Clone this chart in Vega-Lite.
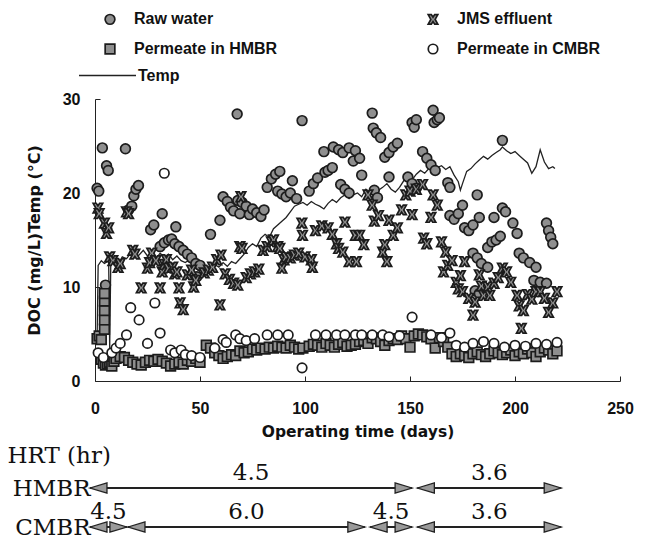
{
  "$schema": "https://vega.github.io/schema/vega-lite/v6.json",
  "autosize": {"type": "none"},
  "padding": {"left": 95, "top": 99, "right": 25, "bottom": 159},
  "width": 525,
  "height": 282,
  "background": "white",
  "config": {"view": {"stroke": null}, "axis": {"grid": false}, "legend": {"padding": 0}},
  "resolve": {"scale": {"y": "independent"}, "axis": {"y": "independent"}},
  "datasets": {
    "temp": [
      {"d":1,"v":4.5,"var":"Temp"},{"d":1.5,"v":12.3,"var":"Temp"},{"d":3,"v":12.8,"var":"Temp"},{"d":4.5,"v":12.5,"var":"Temp"},{"d":6.5,"v":12.8,"var":"Temp"},{"d":7,"v":3.5,"var":"Temp"},{"d":7.5,"v":12.3,"var":"Temp"},{"d":9,"v":12.8,"var":"Temp"},{"d":11,"v":12.4,"var":"Temp"},{"d":13,"v":13.2,"var":"Temp"},{"d":15,"v":13.0,"var":"Temp"},{"d":17,"v":13.6,"var":"Temp"},{"d":19,"v":13.1,"var":"Temp"},{"d":21,"v":13.4,"var":"Temp"},{"d":23,"v":13.9,"var":"Temp"},{"d":25,"v":13.3,"var":"Temp"},{"d":27,"v":13.7,"var":"Temp"},{"d":29,"v":13.0,"var":"Temp"},{"d":31,"v":13.6,"var":"Temp"},{"d":33,"v":13.2,"var":"Temp"},{"d":35,"v":13.5,"var":"Temp"},{"d":37,"v":12.9,"var":"Temp"},{"d":39,"v":13.3,"var":"Temp"},{"d":41,"v":12.8,"var":"Temp"},{"d":43,"v":12.6,"var":"Temp"},{"d":45,"v":12.9,"var":"Temp"},{"d":47,"v":12.2,"var":"Temp"},{"d":49,"v":11.8,"var":"Temp"},{"d":51,"v":11.4,"var":"Temp"},{"d":53,"v":11.6,"var":"Temp"},{"d":55,"v":12.0,"var":"Temp"},{"d":57,"v":12.4,"var":"Temp"},{"d":59,"v":12.1,"var":"Temp"},{"d":61,"v":12.6,"var":"Temp"},{"d":63,"v":12.2,"var":"Temp"},{"d":65,"v":12.7,"var":"Temp"},{"d":67,"v":12.5,"var":"Temp"},{"d":69,"v":13.0,"var":"Temp"},{"d":71,"v":13.5,"var":"Temp"},{"d":73,"v":14.2,"var":"Temp"},{"d":75,"v":14.6,"var":"Temp"},{"d":77,"v":14.3,"var":"Temp"},{"d":79,"v":15.2,"var":"Temp"},{"d":81,"v":15.6,"var":"Temp"},{"d":83,"v":15.3,"var":"Temp"},{"d":85,"v":16.2,"var":"Temp"},{"d":87,"v":16.6,"var":"Temp"},{"d":89,"v":17.0,"var":"Temp"},{"d":91,"v":17.4,"var":"Temp"},{"d":93,"v":18.0,"var":"Temp"},{"d":95,"v":18.6,"var":"Temp"},{"d":97,"v":18.8,"var":"Temp"},{"d":99,"v":19.0,"var":"Temp"},{"d":101,"v":18.7,"var":"Temp"},{"d":103,"v":19.1,"var":"Temp"},{"d":105,"v":18.8,"var":"Temp"},{"d":107,"v":18.6,"var":"Temp"},{"d":109,"v":18.3,"var":"Temp"},{"d":111,"v":18.9,"var":"Temp"},{"d":113,"v":19.3,"var":"Temp"},{"d":115,"v":19.0,"var":"Temp"},{"d":117,"v":19.5,"var":"Temp"},{"d":119,"v":19.8,"var":"Temp"},{"d":121,"v":19.4,"var":"Temp"},{"d":123,"v":19.8,"var":"Temp"},{"d":125,"v":20.0,"var":"Temp"},{"d":127,"v":19.6,"var":"Temp"},{"d":129,"v":20.4,"var":"Temp"},{"d":131,"v":20.1,"var":"Temp"},{"d":133,"v":19.6,"var":"Temp"},{"d":135,"v":20.3,"var":"Temp"},{"d":137,"v":20.6,"var":"Temp"},{"d":139,"v":21.0,"var":"Temp"},{"d":141,"v":20.4,"var":"Temp"},{"d":143,"v":20.1,"var":"Temp"},{"d":145,"v":20.6,"var":"Temp"},{"d":147,"v":21.3,"var":"Temp"},{"d":149,"v":21.7,"var":"Temp"},{"d":151,"v":21.4,"var":"Temp"},{"d":153,"v":22.0,"var":"Temp"},{"d":155,"v":22.4,"var":"Temp"},{"d":157,"v":22.1,"var":"Temp"},{"d":159,"v":22.6,"var":"Temp"},{"d":161,"v":23.0,"var":"Temp"},{"d":163,"v":22.7,"var":"Temp"},{"d":165,"v":22.9,"var":"Temp"},{"d":167,"v":22.5,"var":"Temp"},{"d":169,"v":22.8,"var":"Temp"},{"d":171,"v":21.9,"var":"Temp"},{"d":173,"v":21.2,"var":"Temp"},{"d":174,"v":20.3,"var":"Temp"},{"d":175,"v":21.0,"var":"Temp"},{"d":177,"v":22.3,"var":"Temp"},{"d":179,"v":22.6,"var":"Temp"},{"d":181,"v":23.1,"var":"Temp"},{"d":183,"v":23.5,"var":"Temp"},{"d":185,"v":23.9,"var":"Temp"},{"d":187,"v":23.6,"var":"Temp"},{"d":189,"v":24.0,"var":"Temp"},{"d":191,"v":24.3,"var":"Temp"},{"d":193,"v":24.6,"var":"Temp"},{"d":194,"v":24.9,"var":"Temp"},{"d":196,"v":24.5,"var":"Temp"},{"d":198,"v":24.2,"var":"Temp"},{"d":200,"v":24.4,"var":"Temp"},{"d":202,"v":24.0,"var":"Temp"},{"d":204,"v":23.6,"var":"Temp"},{"d":206,"v":23.2,"var":"Temp"},{"d":208,"v":22.1,"var":"Temp"},{"d":210,"v":22.8,"var":"Temp"},{"d":212,"v":24.6,"var":"Temp"},{"d":214,"v":23.3,"var":"Temp"},{"d":216,"v":22.6,"var":"Temp"},{"d":218,"v":22.8,"var":"Temp"},{"d":219,"v":22.6,"var":"Temp"}
    ],
    "pts": [
      {"d":1,"v":20.5,"s":"Raw water"},{"d":1.8,"v":20.2,"s":"Raw water"},{"d":3.5,"v":24.8,"s":"Raw water"},{"d":5.5,"v":22.9,"s":"Raw water"},{"d":6.3,"v":22.4,"s":"Raw water"},{"d":5,"v":10.2,"s":"Raw water"},{"d":14.5,"v":24.7,"s":"Raw water"},{"d":16,"v":18.2,"s":"Raw water"},{"d":17.5,"v":18.6,"s":"Raw water"},{"d":18.5,"v":19.7,"s":"Raw water"},{"d":19.5,"v":20.4,"s":"Raw water"},{"d":20.7,"v":20.8,"s":"Raw water"},{"d":26.5,"v":16.1,"s":"Raw water"},{"d":28,"v":16.6,"s":"Raw water"},{"d":32,"v":17.8,"s":"Raw water"},{"d":31,"v":14.3,"s":"Raw water"},{"d":33,"v":14.7,"s":"Raw water"},{"d":35,"v":15,"s":"Raw water"},{"d":36.5,"v":15.1,"s":"Raw water"},{"d":38.5,"v":16.4,"s":"Raw water"},{"d":38,"v":14.6,"s":"Raw water"},{"d":40,"v":14.3,"s":"Raw water"},{"d":42,"v":13.9,"s":"Raw water"},{"d":44,"v":13.5,"s":"Raw water"},{"d":46,"v":13.1,"s":"Raw water"},{"d":48,"v":12.5,"s":"Raw water"},{"d":48.5,"v":11.1,"s":"Raw water"},{"d":50,"v":12.3,"s":"Raw water"},{"d":55,"v":15.6,"s":"Raw water"},{"d":59.5,"v":17.1,"s":"Raw water"},{"d":61,"v":19.6,"s":"Raw water"},{"d":63,"v":19.1,"s":"Raw water"},{"d":64.5,"v":18.5,"s":"Raw water"},{"d":66,"v":18.1,"s":"Raw water"},{"d":67.7,"v":28.4,"s":"Raw water"},{"d":68,"v":19.2,"s":"Raw water"},{"d":69,"v":17.8,"s":"Raw water"},{"d":70,"v":19,"s":"Raw water"},{"d":72,"v":18.6,"s":"Raw water"},{"d":73.5,"v":17.7,"s":"Raw water"},{"d":75,"v":18.3,"s":"Raw water"},{"d":77,"v":17.9,"s":"Raw water"},{"d":79,"v":17.5,"s":"Raw water"},{"d":80.5,"v":18.2,"s":"Raw water"},{"d":82,"v":20.6,"s":"Raw water"},{"d":84,"v":21.5,"s":"Raw water"},{"d":86,"v":22,"s":"Raw water"},{"d":88,"v":22.3,"s":"Raw water"},{"d":87,"v":20.2,"s":"Raw water"},{"d":89,"v":19.9,"s":"Raw water"},{"d":91,"v":19.6,"s":"Raw water"},{"d":93,"v":20,"s":"Raw water"},{"d":94,"v":21.3,"s":"Raw water"},{"d":96,"v":19.4,"s":"Raw water"},{"d":98.6,"v":27.7,"s":"Raw water"},{"d":102,"v":20.2,"s":"Raw water"},{"d":104,"v":21,"s":"Raw water"},{"d":106,"v":21.6,"s":"Raw water"},{"d":109,"v":24.4,"s":"Raw water"},{"d":109.5,"v":22.2,"s":"Raw water"},{"d":111,"v":22.4,"s":"Raw water"},{"d":113,"v":22.7,"s":"Raw water"},{"d":113.5,"v":24.9,"s":"Raw water"},{"d":116,"v":24.6,"s":"Raw water"},{"d":118,"v":24.3,"s":"Raw water"},{"d":121,"v":24.8,"s":"Raw water"},{"d":124,"v":24.5,"s":"Raw water"},{"d":123,"v":23.4,"s":"Raw water"},{"d":126,"v":23.7,"s":"Raw water"},{"d":127,"v":21.9,"s":"Raw water"},{"d":117,"v":20.9,"s":"Raw water"},{"d":119,"v":20.4,"s":"Raw water"},{"d":121,"v":20,"s":"Raw water"},{"d":132,"v":28.5,"s":"Raw water"},{"d":132.5,"v":26.9,"s":"Raw water"},{"d":134,"v":26.4,"s":"Raw water"},{"d":136,"v":25.9,"s":"Raw water"},{"d":133,"v":20.3,"s":"Raw water"},{"d":134.5,"v":19.5,"s":"Raw water"},{"d":138,"v":23.8,"s":"Raw water"},{"d":140,"v":24.3,"s":"Raw water"},{"d":142,"v":24.9,"s":"Raw water"},{"d":144,"v":25.3,"s":"Raw water"},{"d":140,"v":21.7,"s":"Raw water"},{"d":149,"v":21.7,"s":"Raw water"},{"d":151,"v":21,"s":"Raw water"},{"d":153,"v":20.5,"s":"Raw water"},{"d":151,"v":27.5,"s":"Raw water"},{"d":152,"v":27,"s":"Raw water"},{"d":153,"v":27.8,"s":"Raw water"},{"d":161,"v":28.8,"s":"Raw water"},{"d":161.5,"v":27.5,"s":"Raw water"},{"d":163,"v":27.8,"s":"Raw water"},{"d":164,"v":28,"s":"Raw water"},{"d":156,"v":24.4,"s":"Raw water"},{"d":158,"v":23.7,"s":"Raw water"},{"d":160,"v":23,"s":"Raw water"},{"d":162,"v":22.4,"s":"Raw water"},{"d":168,"v":21.1,"s":"Raw water"},{"d":169,"v":20.6,"s":"Raw water"},{"d":169,"v":17.6,"s":"Raw water"},{"d":171,"v":17.2,"s":"Raw water"},{"d":173,"v":17.8,"s":"Raw water"},{"d":175,"v":18.7,"s":"Raw water"},{"d":176,"v":16.3,"s":"Raw water"},{"d":178,"v":16,"s":"Raw water"},{"d":180,"v":16.6,"s":"Raw water"},{"d":182,"v":19.8,"s":"Raw water"},{"d":183,"v":17.4,"s":"Raw water"},{"d":190,"v":17.4,"s":"Raw water"},{"d":194,"v":18.4,"s":"Raw water"},{"d":195.5,"v":18,"s":"Raw water"},{"d":194,"v":25.6,"s":"Raw water"},{"d":199,"v":16.8,"s":"Raw water"},{"d":201,"v":15.7,"s":"Raw water"},{"d":187,"v":14.2,"s":"Raw water"},{"d":189,"v":14.8,"s":"Raw water"},{"d":191,"v":15,"s":"Raw water"},{"d":193,"v":15.4,"s":"Raw water"},{"d":180,"v":13.6,"s":"Raw water"},{"d":182,"v":13.1,"s":"Raw water"},{"d":184,"v":12.5,"s":"Raw water"},{"d":187,"v":12.1,"s":"Raw water"},{"d":202,"v":13.6,"s":"Raw water"},{"d":204,"v":13.1,"s":"Raw water"},{"d":207,"v":12.6,"s":"Raw water"},{"d":210,"v":12.1,"s":"Raw water"},{"d":209,"v":10.7,"s":"Raw water"},{"d":212,"v":10.5,"s":"Raw water"},{"d":215,"v":10.4,"s":"Raw water"},{"d":215,"v":16.8,"s":"Raw water"},{"d":216,"v":16,"s":"Raw water"},{"d":217,"v":15.3,"s":"Raw water"},{"d":218,"v":14.6,"s":"Raw water"},{"d":181,"v":9.6,"s":"Raw water"},{"d":183,"v":9.3,"s":"Raw water"},
      {"d":1.4,"v":18.4,"s":"JMS effluent"},{"d":2,"v":17.8,"s":"JMS effluent"},{"d":4.5,"v":16.8,"s":"JMS effluent"},{"d":5.5,"v":15.7,"s":"JMS effluent"},{"d":6.5,"v":16.3,"s":"JMS effluent"},{"d":7,"v":13.2,"s":"JMS effluent"},{"d":8.5,"v":12.8,"s":"JMS effluent"},{"d":11,"v":12.1,"s":"JMS effluent"},{"d":12,"v":12.5,"s":"JMS effluent"},{"d":15,"v":18,"s":"JMS effluent"},{"d":16,"v":17.8,"s":"JMS effluent"},{"d":18,"v":13.9,"s":"JMS effluent"},{"d":19,"v":13.5,"s":"JMS effluent"},{"d":22,"v":9.9,"s":"JMS effluent"},{"d":25,"v":12,"s":"JMS effluent"},{"d":26,"v":12.6,"s":"JMS effluent"},{"d":27,"v":13.6,"s":"JMS effluent"},{"d":29,"v":12.8,"s":"JMS effluent"},{"d":31,"v":9.9,"s":"JMS effluent"},{"d":32,"v":11.6,"s":"JMS effluent"},{"d":33,"v":12.4,"s":"JMS effluent"},{"d":34,"v":12.9,"s":"JMS effluent"},{"d":35,"v":12,"s":"JMS effluent"},{"d":37,"v":12.1,"s":"JMS effluent"},{"d":38,"v":11.4,"s":"JMS effluent"},{"d":39,"v":11.6,"s":"JMS effluent"},{"d":40,"v":9.9,"s":"JMS effluent"},{"d":40.5,"v":8.3,"s":"JMS effluent"},{"d":42,"v":7.6,"s":"JMS effluent"},{"d":44,"v":11.3,"s":"JMS effluent"},{"d":46,"v":11.8,"s":"JMS effluent"},{"d":47,"v":10,"s":"JMS effluent"},{"d":48,"v":10.7,"s":"JMS effluent"},{"d":52,"v":11.5,"s":"JMS effluent"},{"d":54,"v":11.8,"s":"JMS effluent"},{"d":56,"v":12.1,"s":"JMS effluent"},{"d":58,"v":12.9,"s":"JMS effluent"},{"d":60,"v":13.4,"s":"JMS effluent"},{"d":59.5,"v":8.1,"s":"JMS effluent"},{"d":62,"v":11.4,"s":"JMS effluent"},{"d":64,"v":10.8,"s":"JMS effluent"},{"d":66,"v":10.4,"s":"JMS effluent"},{"d":68,"v":10.2,"s":"JMS effluent"},{"d":69,"v":14.3,"s":"JMS effluent"},{"d":69.5,"v":19.6,"s":"JMS effluent"},{"d":70,"v":14.1,"s":"JMS effluent"},{"d":72,"v":11,"s":"JMS effluent"},{"d":74,"v":11.4,"s":"JMS effluent"},{"d":76,"v":11.6,"s":"JMS effluent"},{"d":78,"v":11.9,"s":"JMS effluent"},{"d":80,"v":13.9,"s":"JMS effluent"},{"d":82,"v":14.3,"s":"JMS effluent"},{"d":84,"v":14.8,"s":"JMS effluent"},{"d":85,"v":15,"s":"JMS effluent"},{"d":87,"v":14.3,"s":"JMS effluent"},{"d":88,"v":14.1,"s":"JMS effluent"},{"d":89,"v":12,"s":"JMS effluent"},{"d":90,"v":12.9,"s":"JMS effluent"},{"d":91,"v":13.2,"s":"JMS effluent"},{"d":93,"v":13.1,"s":"JMS effluent"},{"d":95,"v":13.4,"s":"JMS effluent"},{"d":97,"v":13.6,"s":"JMS effluent"},{"d":98.5,"v":16.8,"s":"JMS effluent"},{"d":98.8,"v":15.5,"s":"JMS effluent"},{"d":100,"v":13.2,"s":"JMS effluent"},{"d":103,"v":12.9,"s":"JMS effluent"},{"d":103.5,"v":12.1,"s":"JMS effluent"},{"d":105,"v":16,"s":"JMS effluent"},{"d":108,"v":16.5,"s":"JMS effluent"},{"d":111,"v":16.3,"s":"JMS effluent"},{"d":113,"v":15.6,"s":"JMS effluent"},{"d":115,"v":14.6,"s":"JMS effluent"},{"d":116,"v":14.1,"s":"JMS effluent"},{"d":118,"v":13.7,"s":"JMS effluent"},{"d":119,"v":16.9,"s":"JMS effluent"},{"d":121,"v":12.7,"s":"JMS effluent"},{"d":124,"v":15.5,"s":"JMS effluent"},{"d":124.5,"v":12.7,"s":"JMS effluent"},{"d":126,"v":15.5,"s":"JMS effluent"},{"d":128,"v":14.5,"s":"JMS effluent"},{"d":130,"v":19.8,"s":"JMS effluent"},{"d":132,"v":18.7,"s":"JMS effluent"},{"d":133,"v":17,"s":"JMS effluent"},{"d":135,"v":17.6,"s":"JMS effluent"},{"d":137,"v":13.7,"s":"JMS effluent"},{"d":138,"v":14.5,"s":"JMS effluent"},{"d":139,"v":12.7,"s":"JMS effluent"},{"d":140,"v":17.1,"s":"JMS effluent"},{"d":142,"v":15.5,"s":"JMS effluent"},{"d":144,"v":16.3,"s":"JMS effluent"},{"d":146,"v":18.2,"s":"JMS effluent"},{"d":148,"v":19.8,"s":"JMS effluent"},{"d":150,"v":20.2,"s":"JMS effluent"},{"d":151,"v":17.7,"s":"JMS effluent"},{"d":153,"v":20.4,"s":"JMS effluent"},{"d":156,"v":20.9,"s":"JMS effluent"},{"d":156.5,"v":15.2,"s":"JMS effluent"},{"d":158,"v":14.6,"s":"JMS effluent"},{"d":160,"v":17.4,"s":"JMS effluent"},{"d":161,"v":19.8,"s":"JMS effluent"},{"d":163,"v":18.7,"s":"JMS effluent"},{"d":165,"v":14.8,"s":"JMS effluent"},{"d":166,"v":11.6,"s":"JMS effluent"},{"d":167,"v":13.7,"s":"JMS effluent"},{"d":168,"v":12.3,"s":"JMS effluent"},{"d":170,"v":12.8,"s":"JMS effluent"},{"d":172,"v":10.5,"s":"JMS effluent"},{"d":173,"v":9.8,"s":"JMS effluent"},{"d":174,"v":11.2,"s":"JMS effluent"},{"d":175,"v":9.5,"s":"JMS effluent"},{"d":176,"v":12.7,"s":"JMS effluent"},{"d":178,"v":8.8,"s":"JMS effluent"},{"d":180,"v":7,"s":"JMS effluent"},{"d":181,"v":8.4,"s":"JMS effluent"},{"d":183,"v":11.3,"s":"JMS effluent"},{"d":184,"v":10.1,"s":"JMS effluent"},{"d":185,"v":9.1,"s":"JMS effluent"},{"d":187,"v":10,"s":"JMS effluent"},{"d":188,"v":9.1,"s":"JMS effluent"},{"d":190,"v":10.4,"s":"JMS effluent"},{"d":192,"v":11,"s":"JMS effluent"},{"d":194,"v":12,"s":"JMS effluent"},{"d":196,"v":11.6,"s":"JMS effluent"},{"d":198,"v":10.5,"s":"JMS effluent"},{"d":201,"v":9.1,"s":"JMS effluent"},{"d":202,"v":8,"s":"JMS effluent"},{"d":203,"v":5.6,"s":"JMS effluent"},{"d":204,"v":7.5,"s":"JMS effluent"},{"d":206,"v":9.2,"s":"JMS effluent"},{"d":208,"v":8.7,"s":"JMS effluent"},{"d":210,"v":9.5,"s":"JMS effluent"},{"d":212,"v":9.5,"s":"JMS effluent"},{"d":214,"v":8.8,"s":"JMS effluent"},{"d":216,"v":7.3,"s":"JMS effluent"},{"d":218,"v":8.3,"s":"JMS effluent"},{"d":220,"v":9.5,"s":"JMS effluent"},
      {"d":1,"v":4.5,"s":"Permeate in HMBR"},{"d":2,"v":4.8,"s":"Permeate in HMBR"},{"d":3,"v":4.4,"s":"Permeate in HMBR"},{"d":4.5,"v":5.5,"s":"Permeate in HMBR"},{"d":4.5,"v":6.5,"s":"Permeate in HMBR"},{"d":4.5,"v":7.5,"s":"Permeate in HMBR"},{"d":4.5,"v":8.5,"s":"Permeate in HMBR"},{"d":4.5,"v":9.3,"s":"Permeate in HMBR"},{"d":3,"v":2.3,"s":"Permeate in HMBR"},{"d":4,"v":1.9,"s":"Permeate in HMBR"},{"d":5,"v":1.7,"s":"Permeate in HMBR"},{"d":6,"v":1.8,"s":"Permeate in HMBR"},{"d":7,"v":2,"s":"Permeate in HMBR"},{"d":8,"v":1.6,"s":"Permeate in HMBR"},{"d":9,"v":2.1,"s":"Permeate in HMBR"},{"d":10,"v":2.4,"s":"Permeate in HMBR"},{"d":12,"v":2.6,"s":"Permeate in HMBR"},{"d":14,"v":2.5,"s":"Permeate in HMBR"},{"d":16,"v":2.2,"s":"Permeate in HMBR"},{"d":18,"v":2,"s":"Permeate in HMBR"},{"d":20,"v":1.8,"s":"Permeate in HMBR"},{"d":22,"v":1.7,"s":"Permeate in HMBR"},{"d":24,"v":2,"s":"Permeate in HMBR"},{"d":26,"v":2.2,"s":"Permeate in HMBR"},{"d":28,"v":2.1,"s":"Permeate in HMBR"},{"d":30,"v":2.3,"s":"Permeate in HMBR"},{"d":32,"v":2.1,"s":"Permeate in HMBR"},{"d":34,"v":1.9,"s":"Permeate in HMBR"},{"d":36,"v":1.6,"s":"Permeate in HMBR"},{"d":38,"v":1.8,"s":"Permeate in HMBR"},{"d":40,"v":2,"s":"Permeate in HMBR"},{"d":42,"v":1.8,"s":"Permeate in HMBR"},{"d":44,"v":2.2,"s":"Permeate in HMBR"},{"d":46,"v":2.1,"s":"Permeate in HMBR"},{"d":48,"v":2.4,"s":"Permeate in HMBR"},{"d":50,"v":2,"s":"Permeate in HMBR"},{"d":53,"v":3.8,"s":"Permeate in HMBR"},{"d":55,"v":3.5,"s":"Permeate in HMBR"},{"d":57,"v":3,"s":"Permeate in HMBR"},{"d":59,"v":2.7,"s":"Permeate in HMBR"},{"d":61,"v":2.4,"s":"Permeate in HMBR"},{"d":63,"v":2.6,"s":"Permeate in HMBR"},{"d":65,"v":2.8,"s":"Permeate in HMBR"},{"d":67,"v":2.7,"s":"Permeate in HMBR"},{"d":69,"v":3.2,"s":"Permeate in HMBR"},{"d":71,"v":3,"s":"Permeate in HMBR"},{"d":73,"v":3.1,"s":"Permeate in HMBR"},{"d":75,"v":3.4,"s":"Permeate in HMBR"},{"d":77,"v":3.3,"s":"Permeate in HMBR"},{"d":79,"v":3.5,"s":"Permeate in HMBR"},{"d":81,"v":3.4,"s":"Permeate in HMBR"},{"d":83,"v":3.6,"s":"Permeate in HMBR"},{"d":85,"v":3.5,"s":"Permeate in HMBR"},{"d":87,"v":3.7,"s":"Permeate in HMBR"},{"d":89,"v":3.6,"s":"Permeate in HMBR"},{"d":91,"v":3.5,"s":"Permeate in HMBR"},{"d":93,"v":3.8,"s":"Permeate in HMBR"},{"d":95,"v":3.6,"s":"Permeate in HMBR"},{"d":97,"v":3.4,"s":"Permeate in HMBR"},{"d":99,"v":3.5,"s":"Permeate in HMBR"},{"d":102,"v":3.7,"s":"Permeate in HMBR"},{"d":104,"v":3.9,"s":"Permeate in HMBR"},{"d":106,"v":3.8,"s":"Permeate in HMBR"},{"d":108,"v":3.6,"s":"Permeate in HMBR"},{"d":110,"v":4,"s":"Permeate in HMBR"},{"d":112,"v":3.8,"s":"Permeate in HMBR"},{"d":114,"v":3.6,"s":"Permeate in HMBR"},{"d":116,"v":3.9,"s":"Permeate in HMBR"},{"d":118,"v":4.1,"s":"Permeate in HMBR"},{"d":120,"v":3.7,"s":"Permeate in HMBR"},{"d":122,"v":3.8,"s":"Permeate in HMBR"},{"d":124,"v":3.9,"s":"Permeate in HMBR"},{"d":126,"v":4.2,"s":"Permeate in HMBR"},{"d":128,"v":4.3,"s":"Permeate in HMBR"},{"d":130,"v":4,"s":"Permeate in HMBR"},{"d":132,"v":4.6,"s":"Permeate in HMBR"},{"d":134,"v":4.5,"s":"Permeate in HMBR"},{"d":136,"v":4.2,"s":"Permeate in HMBR"},{"d":138,"v":3.8,"s":"Permeate in HMBR"},{"d":140,"v":4.3,"s":"Permeate in HMBR"},{"d":142,"v":4.5,"s":"Permeate in HMBR"},{"d":144,"v":4.4,"s":"Permeate in HMBR"},{"d":146,"v":4.8,"s":"Permeate in HMBR"},{"d":148,"v":4.5,"s":"Permeate in HMBR"},{"d":150,"v":3.6,"s":"Permeate in HMBR"},{"d":152,"v":4.8,"s":"Permeate in HMBR"},{"d":154,"v":5,"s":"Permeate in HMBR"},{"d":156,"v":4.9,"s":"Permeate in HMBR"},{"d":158,"v":4.7,"s":"Permeate in HMBR"},{"d":160,"v":4.5,"s":"Permeate in HMBR"},{"d":162,"v":3.5,"s":"Permeate in HMBR"},{"d":164,"v":4.6,"s":"Permeate in HMBR"},{"d":166,"v":4.2,"s":"Permeate in HMBR"},{"d":168,"v":3.6,"s":"Permeate in HMBR"},{"d":170,"v":2.9,"s":"Permeate in HMBR"},{"d":172,"v":2.6,"s":"Permeate in HMBR"},{"d":174,"v":2.9,"s":"Permeate in HMBR"},{"d":176,"v":2.7,"s":"Permeate in HMBR"},{"d":178,"v":2.5,"s":"Permeate in HMBR"},{"d":180,"v":2.9,"s":"Permeate in HMBR"},{"d":182,"v":3.1,"s":"Permeate in HMBR"},{"d":184,"v":2.8,"s":"Permeate in HMBR"},{"d":186,"v":2.6,"s":"Permeate in HMBR"},{"d":188,"v":2.9,"s":"Permeate in HMBR"},{"d":190,"v":3.2,"s":"Permeate in HMBR"},{"d":192,"v":3,"s":"Permeate in HMBR"},{"d":194,"v":2.8,"s":"Permeate in HMBR"},{"d":196,"v":3,"s":"Permeate in HMBR"},{"d":198,"v":3.3,"s":"Permeate in HMBR"},{"d":200,"v":2.7,"s":"Permeate in HMBR"},{"d":202,"v":3.1,"s":"Permeate in HMBR"},{"d":204,"v":2.9,"s":"Permeate in HMBR"},{"d":206,"v":3.4,"s":"Permeate in HMBR"},{"d":208,"v":3,"s":"Permeate in HMBR"},{"d":210,"v":2.6,"s":"Permeate in HMBR"},{"d":212,"v":3.1,"s":"Permeate in HMBR"},{"d":214,"v":3.5,"s":"Permeate in HMBR"},{"d":216,"v":3.3,"s":"Permeate in HMBR"},{"d":218,"v":2.9,"s":"Permeate in HMBR"},{"d":220,"v":3.2,"s":"Permeate in HMBR"},
      {"d":1.5,"v":3,"s":"Permeate in CMBR"},{"d":4,"v":2.5,"s":"Permeate in CMBR"},{"d":8,"v":3,"s":"Permeate in CMBR"},{"d":10,"v":3.5,"s":"Permeate in CMBR"},{"d":12,"v":4,"s":"Permeate in CMBR"},{"d":15,"v":4.9,"s":"Permeate in CMBR"},{"d":17,"v":7.8,"s":"Permeate in CMBR"},{"d":21,"v":6.5,"s":"Permeate in CMBR"},{"d":25,"v":4,"s":"Permeate in CMBR"},{"d":28.5,"v":8.3,"s":"Permeate in CMBR"},{"d":31,"v":5.1,"s":"Permeate in CMBR"},{"d":33,"v":22.1,"s":"Permeate in CMBR"},{"d":36,"v":3.3,"s":"Permeate in CMBR"},{"d":38,"v":3,"s":"Permeate in CMBR"},{"d":41,"v":3.3,"s":"Permeate in CMBR"},{"d":43,"v":2.8,"s":"Permeate in CMBR"},{"d":46,"v":2.7,"s":"Permeate in CMBR"},{"d":50,"v":2.5,"s":"Permeate in CMBR"},{"d":57,"v":3.5,"s":"Permeate in CMBR"},{"d":61,"v":4.4,"s":"Permeate in CMBR"},{"d":62.5,"v":4.1,"s":"Permeate in CMBR"},{"d":67,"v":4.9,"s":"Permeate in CMBR"},{"d":69,"v":4.5,"s":"Permeate in CMBR"},{"d":72,"v":4.3,"s":"Permeate in CMBR"},{"d":76,"v":4.5,"s":"Permeate in CMBR"},{"d":82,"v":4.9,"s":"Permeate in CMBR"},{"d":87,"v":4.9,"s":"Permeate in CMBR"},{"d":92,"v":4.9,"s":"Permeate in CMBR"},{"d":98.6,"v":1.4,"s":"Permeate in CMBR"},{"d":105,"v":4.9,"s":"Permeate in CMBR"},{"d":110,"v":4.9,"s":"Permeate in CMBR"},{"d":115,"v":4.9,"s":"Permeate in CMBR"},{"d":119,"v":4.9,"s":"Permeate in CMBR"},{"d":124,"v":4.9,"s":"Permeate in CMBR"},{"d":127,"v":4.9,"s":"Permeate in CMBR"},{"d":132,"v":4.9,"s":"Permeate in CMBR"},{"d":137,"v":4.9,"s":"Permeate in CMBR"},{"d":140,"v":4.7,"s":"Permeate in CMBR"},{"d":145,"v":4.8,"s":"Permeate in CMBR"},{"d":151,"v":6.8,"s":"Permeate in CMBR"},{"d":160,"v":4.9,"s":"Permeate in CMBR"},{"d":165,"v":4.6,"s":"Permeate in CMBR"},{"d":169,"v":5.1,"s":"Permeate in CMBR"},{"d":172,"v":3.8,"s":"Permeate in CMBR"},{"d":176,"v":3.6,"s":"Permeate in CMBR"},{"d":180,"v":4,"s":"Permeate in CMBR"},{"d":185,"v":4.2,"s":"Permeate in CMBR"},{"d":190,"v":4,"s":"Permeate in CMBR"},{"d":195,"v":3.6,"s":"Permeate in CMBR"},{"d":200,"v":3.8,"s":"Permeate in CMBR"},{"d":205,"v":3.7,"s":"Permeate in CMBR"},{"d":210,"v":4,"s":"Permeate in CMBR"},{"d":215,"v":3.9,"s":"Permeate in CMBR"},{"d":220,"v":4.1,"s":"Permeate in CMBR"}
    ],
    "hrt": [
      {"reactor":"HMBR","hrt":"4.5","seg":1,"start":-2.4,"end":151},
      {"reactor":"HMBR","hrt":"3.6","seg":2,"start":153.5,"end":222},
      {"reactor":"CMBR","hrt":"4.5","seg":1,"start":-2.4,"end":15.2},
      {"reactor":"CMBR","hrt":"6.0","seg":2,"start":15.7,"end":128.5},
      {"reactor":"CMBR","hrt":"4.5","seg":3,"start":131,"end":151},
      {"reactor":"CMBR","hrt":"3.6","seg":4,"start":153.5,"end":222}
    ]
  },
  "layer": [
    {
      "layer": [
        {
          "data": {"name": "temp"},
          "mark": {"type": "line", "strokeWidth": 1.3, "clip": false},
          "encoding": {
            "x": {"field": "d", "type": "quantitative", "scale": {"domain": [0, 250], "nice": false},
              "axis": {"values": [0, 50, 100, 150, 200, 250], "title": "Operating time (days)", "titleFont": "DejaVu Sans", "titleFontSize": 15.5, "titleFontWeight": "bold", "titleColor": "#111", "titlePadding": 8, "labelFont": "Liberation Sans", "labelFontSize": 16, "labelFontWeight": "bold", "labelColor": "#111", "labelPadding": 24, "labelFlush": false, "tickSize": -5, "tickColor": "#222", "domainColor": "#222", "grid": false}},
            "y": {"field": "v", "type": "quantitative", "scale": {"domain": [0, 30], "nice": false},
              "axis": {"values": [0, 10, 20, 30], "title": "DOC (mg/L)Temp (°C)", "titleFont": "DejaVu Sans", "titleFontSize": 16, "titleFontWeight": "bold", "titleColor": "#111", "titlePadding": 20, "labelFont": "Liberation Sans", "labelFontSize": 16, "labelFontWeight": "bold", "labelColor": "#111", "labelPadding": 20, "labelFlush": false, "tickSize": -5, "tickColor": "#222", "domainColor": "#222", "grid": false}},
            "stroke": {"field": "var", "type": "nominal", "scale": {"range": ["#222222"]},
              "legend": {"title": null, "orient": "none", "legendX": -17, "legendY": -53, "symbolType": "stroke", "symbolSize": 3249, "symbolStrokeWidth": 1.3, "labelOffset": 1, "labelFont": "Liberation Sans", "labelFontSize": 16, "labelFontWeight": "bold", "labelColor": "#111"}}
          }
        },
        {
          "data": {"name": "pts"},
          "mark": {"type": "point", "filled": true, "stroke": "#1c1c1c", "strokeWidth": 1.7, "opacity": 1, "clip": false},
          "encoding": {
            "x": {"field": "d", "type": "quantitative", "scale": {"domain": [0, 250], "nice": false}},
            "y": {"field": "v", "type": "quantitative", "scale": {"domain": [0, 30], "nice": false}},
            "shape": {"field": "s", "type": "nominal",
              "scale": {"domain": ["Raw water", "Permeate in HMBR", "JMS effluent", "Permeate in CMBR"], "range": ["circle", "square", "M-1,-1L-0.35,-1L0,-0.45L0.35,-1L1,-1L0.45,0L1,1L0.35,1L0,0.45L-0.35,1L-1,1L-0.45,0Z", "circle"]},
              "legend": {"title": null, "orient": "none", "legendX": 7, "legendY": -88, "columns": 2, "columnPadding": 146, "rowPadding": 12, "labelOffset": 16, "symbolSize": 110, "symbolStrokeColor": "#1c1c1c", "symbolStrokeWidth": 1.7, "labelFont": "Liberation Sans", "labelFontSize": 16, "labelFontWeight": "bold", "labelColor": "#111"}},
            "color": {"field": "s", "type": "nominal",
              "scale": {"domain": ["Raw water", "Permeate in HMBR", "JMS effluent", "Permeate in CMBR"], "range": ["#8f8f8f", "#8f8f8f", "#8f8f8f", "#ffffff"]},
              "legend": {"title": null, "orient": "none", "legendX": 7, "legendY": -88, "columns": 2, "columnPadding": 146, "rowPadding": 12, "labelOffset": 16, "symbolSize": 110, "symbolStrokeColor": "#1c1c1c", "symbolStrokeWidth": 1.7, "labelFont": "Liberation Sans", "labelFontSize": 16, "labelFontWeight": "bold", "labelColor": "#111"}},
            "size": {"field": "s", "type": "nominal",
              "scale": {"domain": ["Raw water", "Permeate in HMBR", "JMS effluent", "Permeate in CMBR"], "range": [95, 90, 144, 80]}, "legend": null}
          }
        }
      ]
    },
    {
      "layer": [
        {
          "data": {"name": "hrt"},
          "mark": {"type": "rule", "strokeWidth": 2, "color": "#222", "clip": false},
          "encoding": {
            "x": {"field": "start", "type": "quantitative", "scale": {"domain": [0, 250], "nice": false}},
            "x2": {"field": "end"},
            "y": {"field": "reactor", "type": "nominal", "scale": {"type": "point", "domain": ["HMBR", "CMBR"], "range": [389, 428], "padding": 0},
              "axis": {"orient": "left", "title": "HRT (hr)", "titleAngle": 0, "titleAlign": "left", "titleBaseline": "middle", "titleX": -88, "titleY": 356, "titleFont": "DejaVu Serif", "titleFontSize": 23, "titleFontWeight": "normal", "titleColor": "#111", "domain": false, "ticks": false, "labelFont": "DejaVu Serif", "labelFontSize": 23, "labelColor": "#111", "labelPadding": 5, "grid": false}}
          }
        },
        {
          "data": {"name": "hrt"},
          "mark": {"type": "point", "filled": true, "fill": "#9a9a9a", "stroke": "#222", "strokeWidth": 1.3, "opacity": 1, "size": 289, "shape": "M0,0L2,-0.6L2,0.6Z", "clip": false},
          "encoding": {
            "x": {"field": "start", "type": "quantitative", "scale": {"domain": [0, 250], "nice": false}},
            "y": {"field": "reactor", "type": "nominal"}
          }
        },
        {
          "data": {"name": "hrt"},
          "mark": {"type": "point", "filled": true, "fill": "#9a9a9a", "stroke": "#222", "strokeWidth": 1.3, "opacity": 1, "size": 289, "shape": "M0,0L-2,-0.6L-2,0.6Z", "clip": false},
          "encoding": {
            "x": {"field": "end", "type": "quantitative", "scale": {"domain": [0, 250], "nice": false}},
            "y": {"field": "reactor", "type": "nominal"}
          }
        },
        {
          "data": {"name": "hrt"},
          "transform": [
            {"fold": ["start", "end"], "as": ["side", "day"]},
            {"aggregate": [{"op": "mean", "field": "day", "as": "mid"}], "groupby": ["reactor", "hrt", "seg"]}
          ],
          "mark": {"type": "text", "font": "DejaVu Serif", "fontSize": 23, "color": "#111", "dy": -15, "baseline": "middle", "clip": false},
          "encoding": {
            "x": {"field": "mid", "type": "quantitative", "scale": {"domain": [0, 250], "nice": false}},
            "y": {"field": "reactor", "type": "nominal"},
            "text": {"field": "hrt"}
          }
        }
      ]
    }
  ]
}
